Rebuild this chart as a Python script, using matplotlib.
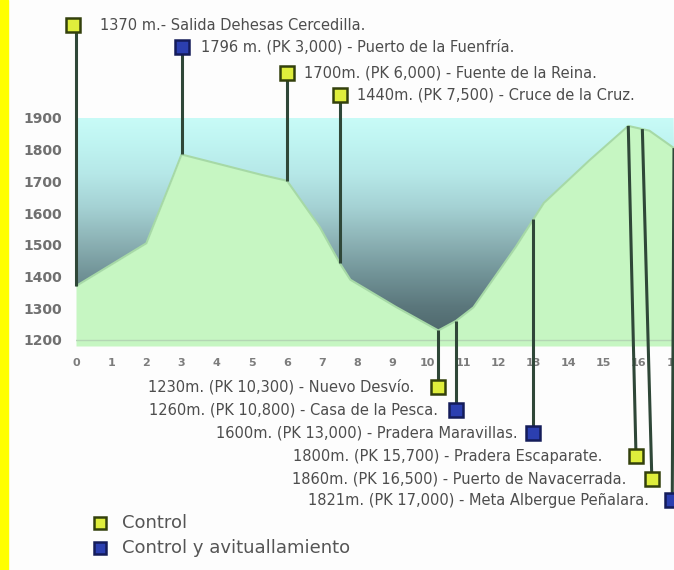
import numpy as np
import matplotlib
matplotlib.use("Agg")
import matplotlib.pyplot as plt
from matplotlib.colors import LinearSegmentedColormap
from matplotlib.patches import Polygon, Rectangle
from matplotlib.lines import Line2D

# ---------------- data ----------------
profile_km = [0, 2.0, 2.75, 3.0, 5.3, 6.0, 6.93, 7.5, 7.8, 9.1, 10.3, 10.8,
              11.3, 12.5, 13.0, 13.3, 14.6, 15.7, 16.3, 17.0]
profile_elev = [1370, 1505, 1714, 1785, 1720, 1702, 1556, 1442, 1390, 1304,
                1230, 1260, 1303, 1493, 1580, 1632, 1767, 1875, 1860, 1805]

y_ticks = [1200, 1300, 1400, 1500, 1600, 1700, 1800, 1900]
x_ticks = list(range(0, 18))

station_labels = [
    "1370 m.- Salida Dehesas Cercedilla.",
    "1796 m. (PK 3,000) - Puerto de la Fuenfría.",
    "1700m. (PK 6,000) - Fuente de la Reina.",
    "1440m. (PK 7,500) - Cruce de la Cruz.",
    "1230m. (PK 10,300) - Nuevo Desvío.",
    "1260m. (PK 10,800) - Casa de la Pesca.",
    "1600m. (PK 13,000) - Pradera Maravillas.",
    "1800m. (PK 15,700) - Pradera Escaparate.",
    "1860m. (PK 16,500) - Puerto de Navacerrada.",
    "1821m. (PK 17,000) - Meta Albergue Peñalara.",
]
station_km = [0, 3, 6, 7.5, 10.3, 10.8, 13.0, 15.7, 16.1, 17.0]
station_type = ["control", "avit", "control", "control", "control",
                "avit", "avit", "control", "control", "avit"]
station_side = ["top"] * 4 + ["bottom"] * 6

legend_labels = ["Control", "Control y avituallamiento"]

# ---------------- layout / style ----------------
marker_dx = [-0.08, 0, 0, 0, 0, 0, 0, 0.22, 0.27, -0.05]      # km shift of marker
marker_y = [2193, 2124, 2042, 1973, 1052, 979, 907, 834, 762, 695]
text_gap = [27, 19, 17, 17, 24, 18, 16, 34, 25, 23]            # pixels

W, H = 674, 570
fig = plt.figure(figsize=(W / 100, H / 100), dpi=100)
fig.patch.set_facecolor("#fdfdfd")
fig.patches.append(Rectangle((0, 0), 8 / W, 1, transform=fig.transFigure,
                             color="#ffff00", zorder=0))

ax = fig.add_axes([76 / W, 224 / H, 598 / W, 228 / H])
ax.set_facecolor("none")
xmax = 598 / 35.2
ax.set_xlim(0, xmax)
ax.set_ylim(1181, 1900)
for s in ax.spines.values():
    s.set_visible(False)

# gradient "sky" above profile
cmap = LinearSegmentedColormap.from_list(
    "sky", [(0.0, "#4c6468"), (0.15, "#5b777c"), (0.3, "#729498"),
            (0.45, "#8db3b6"), (0.6, "#a5d2d4"), (0.75, "#b6e8e8"),
            (0.9, "#c0f5f2"), (1.0, "#c8fbf7")])
grad = np.linspace(0, 1, 256).reshape(-1, 1)
im = ax.imshow(grad, cmap=cmap, origin="lower", aspect="auto",
               extent=(0, xmax, 1200, 1900), zorder=1)
xs = np.array(profile_km)
ys = np.array(profile_elev)
poly = Polygon(list(zip(xs, ys)) + [(xmax, 1900), (0, 1900)],
               closed=True, transform=ax.transData, facecolor="none")
ax.add_patch(poly)
im.set_clip_path(poly)

# green ground
ax.fill_between(xs, ys, 1181, color="#c6f6c2", zorder=2, lw=0)
ax.plot(xs, ys, color="#a6d9a6", lw=1.5, zorder=3)
ax.axhline(1200, color="#b4d6b4", lw=1, zorder=3)

# ticks
ax.set_yticks(y_ticks)
ax.set_yticklabels([str(v) for v in y_ticks])
ax.set_xticks(x_ticks)
ax.set_xticklabels([str(v) for v in x_ticks])
ax.tick_params(axis="y", length=0, pad=10, labelsize=10, labelcolor="#707070")
ax.tick_params(axis="x", length=0, pad=9, labelsize=8, labelcolor="#7c7c7c")
for t in ax.get_yticklabels() + ax.get_xticklabels():
    t.set_fontweight("bold")
    t.set_family("DejaVu Sans")

# station lines, markers, labels
colors = {"control": ("#dfee3c", "#33400c"), "avit": ("#2b3fb0", "#141c5a")}
for lab, km, typ, side, dx, my, gap in zip(station_labels, station_km,
                                           station_type, station_side,
                                           marker_dx, marker_y, text_gap):
    ground = np.interp(km, xs, ys)
    mk = km + dx
    ax.plot([km, km if side == "top" else mk], [ground, my], color="#2f4738",
            lw=2.2, zorder=4, clip_on=False, solid_capstyle="butt")
    fc, ec = colors[typ]
    ax.plot([mk], [my], marker="s", ms=9.5, mfc=fc, mec=ec, mew=1.8,
            zorder=6, clip_on=False)
    if side == "top":
        ax.annotate(lab, xy=(mk, my), xytext=(gap, 0), textcoords="offset pixels",
                    ha="left", va="center", fontsize=10.5, color="#4d4d4d",
                    family="DejaVu Sans", annotation_clip=False)
    else:
        ax.annotate(lab, xy=(mk, my), xytext=(-gap, 0), textcoords="offset pixels",
                    ha="right", va="center", fontsize=10.5, color="#4d4d4d",
                    family="DejaVu Sans", annotation_clip=False)

# legend
for i, (lab, typ) in enumerate(zip(legend_labels, ["control", "avit"])):
    yy = 1 - (523 + 25 * i) / H
    fc, ec = colors[typ]
    fig.add_artist(Line2D([100 / W], [yy], marker="s", ms=9, mfc=fc, mec=ec,
                          mew=1.8, transform=fig.transFigure))
    fig.text(122 / W, yy, lab, ha="left", va="center", fontsize=13,
             color="#555555", family="DejaVu Sans")

fig.savefig("out.png", dpi=100, facecolor=fig.get_facecolor())
